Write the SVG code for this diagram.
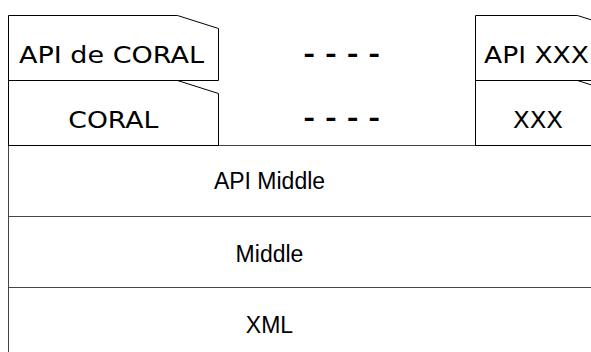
<svg xmlns="http://www.w3.org/2000/svg" width="591" height="352" viewBox="0 0 591 352">
<style>
.box{fill:#fff;stroke:#000;stroke-width:1}
.layer{fill:#fff;stroke:#444;stroke-width:1}
.t1{font-family:"DejaVu Sans",Verdana,sans-serif;font-size:23.5px;fill:#000;text-anchor:middle}
.t2{font-family:"Liberation Sans",Arial,sans-serif;font-size:23px;fill:#000;text-anchor:middle}
.dash{font-family:"DejaVu Sans",Verdana,sans-serif;font-size:23px;font-weight:bold;fill:#000;text-anchor:middle}
</style>
<rect width="591" height="352" fill="#fff"/>
<g id="layers">
<g id="xml"><rect class="layer" x="8.5" y="287.5" width="600" height="80"/><text class="t2" x="269.5" y="333">XML</text></g>
<g id="middle"><rect class="layer" x="8.5" y="216.5" width="600" height="71"/><text class="t2" x="269.5" y="262">Middle</text></g>
<g id="api-middle"><rect class="layer" x="8.5" y="145.5" width="600" height="71"/><text class="t2" x="269.5" y="189">API Middle</text></g>
</g>
<g id="coral"><path class="box" d="M8.5 80.5 H177.5 L218.5 93.5 V145.5 H8.5 Z"/><text class="t1" x="113.3" y="128.3" textLength="90" lengthAdjust="spacingAndGlyphs">CORAL</text></g>
<g id="api-coral"><path class="box" d="M8.5 15.5 H177.5 L218.5 28.5 V80.5 H8.5 Z"/><text class="t1" x="111.5" y="62.7" textLength="185" lengthAdjust="spacingAndGlyphs">API de CORAL</text></g>
<g id="xxx"><path class="box" d="M475.5 80.5 H577.5 L618.5 93.5 V145.5 H475.5 Z"/><text class="t1" x="538" y="128.3" textLength="50" lengthAdjust="spacingAndGlyphs">XXX</text></g>
<g id="api-xxx"><path class="box" d="M475.5 15.5 H577.5 L618.5 28.5 V80.5 H475.5 Z"/><text class="t1" x="536.5" y="62.7" textLength="105" lengthAdjust="spacingAndGlyphs">API XXX</text></g>
<g id="dashes1"><text class="dash" x="341.7" y="62" textLength="77" lengthAdjust="spacingAndGlyphs">- - - -</text></g>
<g id="dashes2"><text class="dash" x="341.7" y="126" textLength="77" lengthAdjust="spacingAndGlyphs">- - - -</text></g>
<g id="connectors"></g>
</svg>
